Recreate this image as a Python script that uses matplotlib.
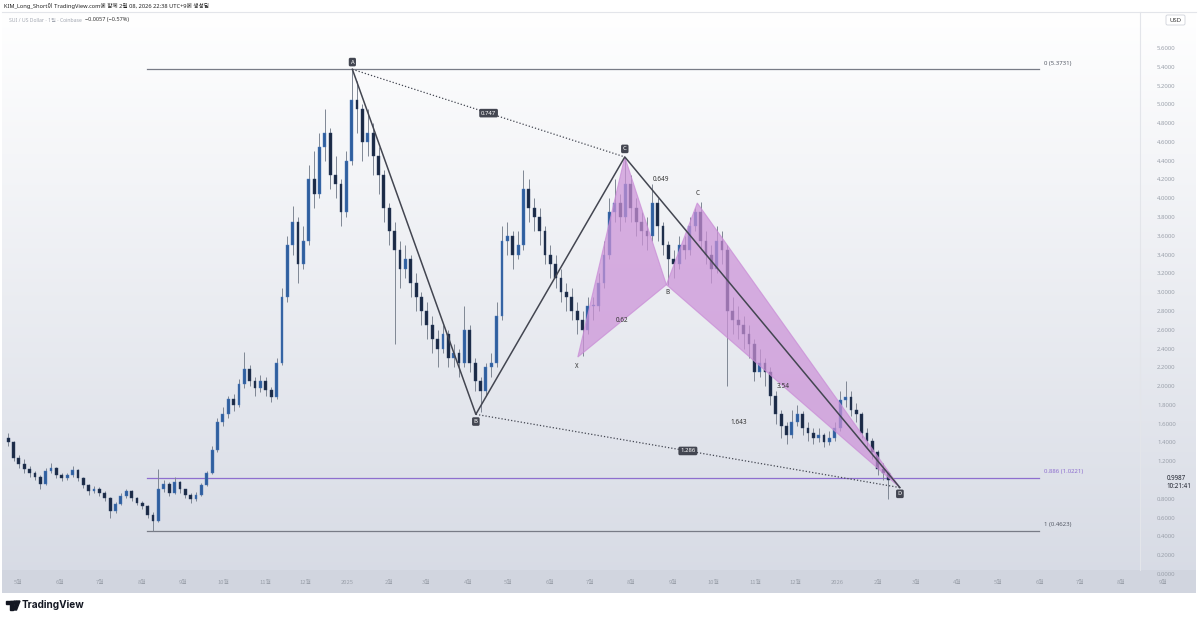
import numpy as np
import pandas as pd
import matplotlib
matplotlib.use('Agg')
import matplotlib.pyplot as plt
import matplotlib.dates as mdates
from matplotlib.patches import Polygon, Rectangle, Circle, FancyBboxPatch

plt.rcParams['font.family'] = ['Noto Sans CJK KR', 'DejaVu Sans']
LATIN_KR = ['Noto Sans', 'Noto Sans CJK KR']

# ---------------- data ----------------
start_date = '2024-04-22'          # first 4-day candle
first_open = 1.45
closes = [1.40, 1.24, 1.17, 1.12, 1.07, 1.03, 0.96, 1.10, 1.13, 1.05,
          1.02, 1.05, 1.11, 1.02, 0.95, 0.88, 0.91, 0.86, 0.81, 0.67,
          0.75, 0.83, 0.88, 0.81, 0.76, 0.72, 0.63, 0.56, 0.90, 0.96,
          0.86, 0.98, 0.90, 0.84, 0.80, 0.84, 0.95, 1.08, 1.32, 1.62,
          1.70, 1.86, 1.80, 2.02, 2.18, 2.05, 1.98, 2.06, 1.96, 1.88,
          2.25, 2.95, 3.50, 3.75, 3.30, 3.55, 4.20, 4.05, 4.55, 4.70,
          4.25, 4.15, 3.85, 4.40, 5.05, 4.95, 4.60, 4.70, 4.45, 4.25,
          3.90, 3.65, 3.45, 3.25, 3.35, 3.10, 2.95, 2.80, 2.65, 2.50,
          2.40, 2.55, 2.30, 2.35, 2.25, 2.60, 2.25, 2.05, 1.95, 2.20,
          2.25, 2.75, 3.55, 3.60, 3.40, 3.50, 4.10, 3.90, 3.80, 3.65,
          3.40, 3.30, 3.15, 3.00, 2.95, 2.80, 2.70, 2.60, 2.85, 2.85,
          3.10, 3.40, 3.85, 3.95, 3.80, 4.15, 3.90, 3.75, 3.65, 3.60,
          3.95, 3.70, 3.50, 3.35, 3.30, 3.50, 3.45, 3.70, 3.85, 3.55,
          3.40, 3.25, 3.55, 3.45, 2.80, 2.70, 2.65, 2.55, 2.45, 2.15,
          2.25, 2.15, 1.90, 1.70, 1.58, 1.48, 1.62, 1.70, 1.55, 1.50,
          1.45, 1.48, 1.40, 1.45, 1.55, 1.85, 1.88, 1.75, 1.70, 1.50,
          1.42, 1.30, 1.12, 1.08, 1.00]
highs = [1.50, 1.42, 1.27, 1.22, 1.15, 1.10, 1.05, 1.13, 1.18, 1.14,
         1.07, 1.08, 1.15, 1.12, 1.03, 0.96, 0.94, 0.93, 0.88, 0.82,
         0.77, 0.86, 0.91, 0.89, 0.82, 0.78, 0.73, 0.66, 1.12, 1.00,
         0.98, 1.03, 0.99, 0.91, 0.86, 0.87, 0.97, 1.10, 1.36, 1.66,
         1.78, 1.90, 1.92, 2.08, 2.36, 2.22, 2.10, 2.12, 2.10, 1.99,
         2.30, 3.05, 3.60, 3.92, 3.80, 3.70, 4.35, 4.50, 4.70, 4.95,
         4.75, 4.45, 4.20, 4.50, 5.37, 5.25, 5.00, 4.95, 4.80, 4.55,
         4.30, 3.95, 3.75, 3.55, 3.50, 3.40, 3.20, 3.00, 2.90, 2.75,
         2.60, 2.65, 2.60, 2.45, 2.40, 2.85, 2.65, 2.30, 2.10, 2.25,
         2.35, 2.90, 3.70, 3.75, 3.65, 3.65, 4.30, 4.20, 4.00, 3.90,
         3.70, 3.50, 3.40, 3.25, 3.10, 3.05, 2.90, 2.80, 2.95, 2.95,
         3.20, 3.55, 4.00, 4.20, 4.05, 4.44, 4.25, 4.00, 3.85, 3.80,
         4.15, 4.00, 3.75, 3.55, 3.45, 3.60, 3.60, 3.80, 3.90, 3.96,
         3.65, 3.50, 3.70, 3.65, 3.50, 2.95, 2.85, 2.75, 2.65, 2.50,
         2.40, 2.30, 2.20, 1.95, 1.75, 1.62, 1.75, 1.80, 1.74, 1.62,
         1.55, 1.55, 1.50, 1.52, 1.62, 1.95, 2.05, 1.95, 1.82, 1.72,
         1.55, 1.45, 1.32, 1.18, 1.10]
lows = [1.36, 1.20, 1.13, 1.08, 1.03, 1.00, 0.91, 0.95, 1.07, 1.02,
        0.99, 1.00, 1.03, 0.99, 0.92, 0.84, 0.86, 0.83, 0.78, 0.60,
        0.65, 0.73, 0.81, 0.78, 0.73, 0.69, 0.60, 0.46, 0.55, 0.87,
        0.83, 0.85, 0.86, 0.81, 0.76, 0.78, 0.83, 0.94, 1.06, 1.30,
        1.58, 1.66, 1.74, 1.78, 1.98, 2.00, 1.90, 1.94, 1.90, 1.83,
        1.86, 2.22, 2.90, 3.40, 3.10, 3.25, 3.50, 3.90, 4.00, 4.40,
        4.10, 4.00, 3.70, 3.80, 4.35, 4.70, 4.40, 4.45, 4.25, 4.05,
        3.75, 3.50, 2.45, 3.05, 3.15, 2.95, 2.80, 2.65, 2.50, 2.35,
        2.20, 2.35, 2.20, 2.20, 2.10, 2.20, 2.15, 1.95, 1.72, 1.90,
        2.10, 2.20, 2.70, 3.40, 3.25, 3.35, 3.45, 3.75, 3.65, 3.50,
        3.30, 3.15, 3.05, 2.90, 2.80, 2.70, 2.55, 2.32, 2.55, 2.70,
        2.80, 3.05, 3.35, 3.75, 3.65, 3.75, 3.75, 3.60, 3.50, 3.45,
        3.55, 3.55, 3.40, 3.08, 3.15, 3.25, 3.35, 3.40, 3.65, 3.45,
        3.30, 3.10, 3.20, 3.30, 2.00, 2.55, 2.50, 2.40, 2.30, 2.05,
        2.10, 2.00, 1.80, 1.60, 1.45, 1.38, 1.45, 1.58, 1.48, 1.42,
        1.38, 1.40, 1.35, 1.37, 1.42, 1.52, 1.78, 1.68, 1.62, 1.45,
        1.35, 1.22, 1.05, 1.00, 0.80]

# black ABCD pattern
abcd_labels = ['A', 'B', 'C', 'D']
abcd_dates = ['2025-01-05', '2025-04-07', '2025-07-27', '2026-02-17']
abcd_prices = [5.3731, 1.70, 4.44, 0.92]
abcd_ratios = ['0.747', '1.286']          # A-C and B-D

# purple XABCD harmonic
xabcd_labels = ['X', 'A', 'B', 'C', 'D']
xabcd_dates = ['2025-06-22', '2025-07-27', '2025-08-27', '2025-09-19', '2026-02-17']
xabcd_prices = [2.31, 4.44, 3.08, 3.95, 0.92]
xabcd_ratios = ['0.62', '0.649', '1.643', '3.54']   # XB, AC, XD, BD

# fib levels
fib_start, fib_end = '2024-08-05', '2026-06-01'
fib_prices = [5.3731, 1.0221, 0.4623]
fib_labels = ['0 (5.3731)', '0.886 (1.0221)', '1 (0.4623)']

price_ticks = [0.0, 0.2, 0.4, 0.6, 0.8, 1.2, 1.4, 1.6, 1.8, 2.0, 2.2, 2.4,
               2.6, 2.8, 3.0, 3.2, 3.4, 3.6, 3.8, 4.0, 4.2, 4.4, 4.6, 4.8,
               5.0, 5.2, 5.4, 5.6]
last_price = '0.9987'
countdown = '10:21:41'

# ---------------- figure ----------------
W, H = 1200, 621
fig = plt.figure(figsize=(12, 6.21), dpi=100)

# background (pixel space)
bg = fig.add_axes([0, 0, 1, 1])
bg.set_axis_off()
img = np.ones((H, W, 3))
top_c = np.array([1.0, 1.0, 1.0])
bot_c = np.array([214, 218, 228]) / 255
for yy in range(12, 593):
    t = (yy - 12) / (593 - 12)
    img[yy, 2:1196, :] = top_c * (1 - t) + bot_c * t
img[570:593, 2:1196, :] = np.array([209, 213, 223]) / 255
bg.imshow(img, extent=[0, W, H, 0], aspect='auto', interpolation='bilinear')
bg.plot([2, 1196], [12, 12], color='#e3e5ea', lw=0.8)
bg.plot([1140, 1140], [12, 570], color='#e3e5ea', lw=0.8)

# main chart axes (extends under the price column)
x0, x1, ytop, ybot = 5, 1195, 13, 590
ax = fig.add_axes([x0 / W, 1 - ybot / H, (x1 - x0) / W, (ybot - ytop) / H])
ax.patch.set_alpha(0)
for s in ax.spines.values():
    s.set_visible(False)

ref = mdates.date2num(pd.Timestamp('2025-01-01'))
px_per_day = 1.342
px_per_unit = 93.93
y_zero = 574

# candles
dates = pd.date_range(start_date, periods=len(closes), freq='4D')
xc = mdates.date2num(dates) + 1.5
c = np.array(closes)
o = np.concatenate([[first_open], c[:-1]])
hi = np.maximum(np.array(highs), np.maximum(o, c))
lo = np.minimum(np.array(lows), np.minimum(o, c))
up = c >= o
ax.vlines(xc, lo, hi, color='#7f8794', lw=0.7, zorder=3)
body = np.where(np.abs(c - o) < 0.01, 0.01, c - o)
ax.bar(xc[up], body[up], bottom=o[up], width=2.1, color='#2f5f9e',
       edgecolor='#4d7bbd', lw=0.3, zorder=4)
ax.bar(xc[~up], body[~up], bottom=o[~up], width=2.1, color='#1b2a45',
       edgecolor='#2a3f62', lw=0.3, zorder=4)

# fib levels
fx0 = mdates.date2num(pd.Timestamp(fib_start))
fx1 = mdates.date2num(pd.Timestamp(fib_end))
fib_colors = ['#787b86', '#8e6fcf', '#787b86']
for p, lab, col in zip(fib_prices, fib_labels, fib_colors):
    ax.plot([fx0, fx1], [p, p], color=col, lw=0.9, zorder=2)
    ax.annotate(lab, xy=(fx1, p), xytext=(3, 4.5), textcoords='offset points',
                fontsize=4.3, color=col if col != '#787b86' else '#555a66',
                ha='left', va='center', zorder=6, family=LATIN_KR)

# purple harmonic
xd = mdates.date2num(pd.to_datetime(xabcd_dates))
xp = np.array(xabcd_prices)
purple = '#cc92d8'
for tri in ([0, 1, 2], [2, 3, 4]):
    ax.add_patch(Polygon(np.column_stack([xd[tri], xp[tri]]), closed=True,
                         facecolor=purple, edgecolor='#c98bd6', lw=0.8,
                         alpha=0.72, zorder=5))
ax.annotate(xabcd_labels[0], (xd[0], xp[0]), xytext=(-1, -6.5), textcoords='offset points',
            fontsize=4.5, color='#333', ha='center', va='center', zorder=8)
ax.annotate(xabcd_labels[2], (xd[2], xp[2]), xytext=(1, -5), textcoords='offset points',
            fontsize=4.5, color='#333', ha='center', va='center', zorder=8)
ax.annotate(xabcd_labels[3], (xd[3], xp[3]), xytext=(0, 7), textcoords='offset points',
            fontsize=4.5, color='#333', ha='center', va='center', zorder=8)
pairs = [(0, 2), (1, 3), (0, 4), (2, 4)]
for (i, j), r in zip(pairs, xabcd_ratios):
    ax.text((xd[i] + xd[j]) / 2, (xp[i] + xp[j]) / 2, r, fontsize=4.6,
            color='#333', ha='center', va='center', zorder=8, family=LATIN_KR)

# black ABCD
ad = mdates.date2num(pd.to_datetime(abcd_dates))
ap = np.array(abcd_prices)
ax.plot(ad, ap, color='#434651', lw=1.1, zorder=7)
ax.plot(ad[[0, 2]], ap[[0, 2]], color='#434651', lw=0.9, ls=(0, (1, 1.6)), zorder=7)
ax.plot(ad[[1, 3]], ap[[1, 3]], color='#434651', lw=0.9, ls=(0, (1, 1.6)), zorder=7)
boxstyle = dict(boxstyle='round,pad=0.3,rounding_size=0.25', fc='#434651', ec='none')
offsets = [5.2, -5.2, 5.8, -4.5]
for lab, xv, pv, off in zip(abcd_labels, ad, ap, offsets):
    ax.annotate(lab, (xv, pv), xytext=(0, off), textcoords='offset points',
                fontsize=4.3, color='white', ha='center', va='center',
                bbox=boxstyle, zorder=9)
for (i, j), r in zip([(0, 2), (1, 3)], abcd_ratios):
    ax.text((ad[i] + ad[j]) / 2, (ap[i] + ap[j]) / 2, r, fontsize=4.3,
            color='white', ha='center', va='center', bbox=boxstyle, zorder=9,
            family=LATIN_KR)

# y axis (right, labels inside the price column)
ax.yaxis.tick_right()
ax.set_yticks(price_ticks)
ax.set_yticklabels([f'{v:.4f}' for v in price_ticks], family=LATIN_KR)
ax.tick_params(axis='y', length=0, pad=-27.3, labelsize=4.3, labelcolor='#9aa0aa')

# x axis months
months = pd.date_range('2024-05-01', '2026-09-01', freq='MS')
mlabels = [str(m.year) if m.month == 1 else f'{m.month}월' for m in months]
ax.set_xticks(mdates.date2num(months))
ax.set_xticklabels(mlabels)
ax.tick_params(axis='x', length=0, pad=-7.5, labelsize=4.2, labelcolor='#9aa0aa')

# limits after ticks
ax.set_xlim(ref - (347 - x0) / px_per_day, ref + (x1 - 347) / px_per_day)
ax.set_ylim((y_zero - ybot) / px_per_unit, (y_zero - ytop) / px_per_unit)

# last price label
ax.annotate(last_price, xy=(1, 1.0), xycoords=('axes fraction', 'data'),
            xytext=(-20.5, 0.8), textcoords='offset points', fontsize=4.5,
            fontweight='bold', color='#1e222d', ha='left', va='center',
            annotation_clip=False, family=LATIN_KR)
ax.annotate(countdown, xy=(1, 1.0), xycoords=('axes fraction', 'data'),
            xytext=(-20.5, -4.9), textcoords='offset points', fontsize=4.5,
            color='#1e222d', ha='left', va='center', annotation_clip=False,
            family=LATIN_KR)

# header texts
def ftxt(xp_, yp_, s, **kw):
    fig.text(xp_ / W, 1 - yp_ / H, s, va='center', **kw)

ftxt(4, 5.5, 'KIM_Long_Short이 TradingView.com에 함께 2월 08, 2026 22:38 UTC+9에 생성됨',
     fontsize=4.1, color='#222', family=LATIN_KR)
ftxt(9, 20, 'SUI / US Dollar · 1일 · Coinbase', fontsize=3.7, color='#a3a8b2',
     family=LATIN_KR)
ftxt(85, 20, '−0.0057 (−0.57%)', fontsize=4.0, color='#333', family=LATIN_KR)

# USD box
bg.add_patch(FancyBboxPatch((1166, 15), 19, 10, boxstyle='round,pad=0,rounding_size=1.5',
                            fc='white', ec='#d0d3da', lw=0.6))
bg.text(1175.5, 20, 'USD', fontsize=4.3, color='#333', ha='center', va='center',
        family=LATIN_KR)

# TradingView logo
bg.add_patch(Rectangle((6, 601), 6.5, 3, color='#131722'))
bg.add_patch(Rectangle((9.5, 601), 3, 9, color='#131722'))
bg.add_patch(Circle((14.8, 602.6), 1.6, color='#131722'))
bg.add_patch(Polygon([[16.5, 601], [20, 601], [16.5, 610], [13, 610]], closed=True, color='#131722'))
bg.text(22, 605.5, 'TradingView', fontsize=7.2, fontweight='bold', color='#131722',
        ha='left', va='center', family=['Inter', 'DejaVu Sans'])
bg.set_xlim(0, W)
bg.set_ylim(H, 0)

fig.savefig('out.png', dpi=100)
